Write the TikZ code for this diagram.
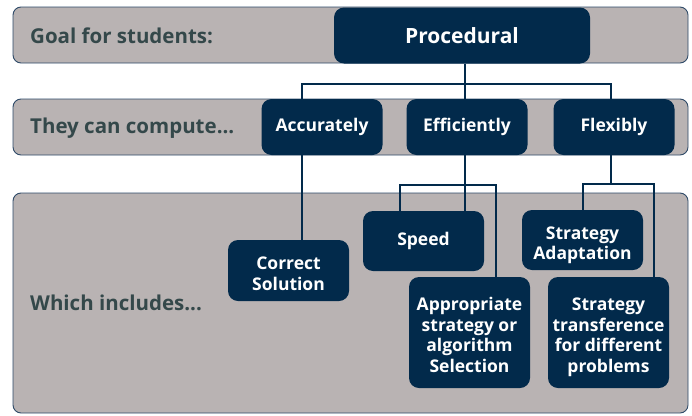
\documentclass[tikz,border=0pt]{standalone}
\usepackage{fontspec}
\setmainfont{Open Sans}
\definecolor{navy}{HTML}{022A4B}
\definecolor{bandgrey}{HTML}{B9B3B3}
\definecolor{bandline}{HTML}{2E4A68}
\definecolor{labelgrey}{HTML}{34484A}
\begin{document}
\begin{tikzpicture}
	[x=1pt,y=-1pt,
	band/.style={draw=bandline,line width=0.9pt,fill=bandgrey,rounded corners=8pt,minimum width=675pt,inner sep=0pt},
	tag/.style={anchor=west,text=labelgrey,font=\bfseries\fontsize{20.5}{24}\selectfont,inner sep=0pt},
	box/.style={fill=navy,text=white,rounded corners=10pt,align=center,minimum width=121pt,inner sep=0pt,
		font=\bfseries\fontsize{17.5}{20.5}\selectfont},
	tallbox/.style={box,text depth=0pt,text height=#1},
	link/.style={draw=navy,line width=2.2pt}]
    \useasboundingbox (0,0) rectangle (692,415);
    \node[band,minimum height=56pt] (goalband) at (350.5,35) {};
    \node[band,minimum height=56pt] (computeband) at (350.5,127) {};
    \node[band,minimum height=220pt] (includeband) at (350.5,303) {};
    \node[tag] (goal) at (30,35.5) {Goal for students:};
    \node[tag] (compute) at (30,128.5) {They can compute...};
    \node[tag] (include) at (30,302.5) {Which includes...};
    \node[box,minimum width=256pt,minimum height=56pt,font=\bfseries\fontsize{21}{24}\selectfont] (proc) at (462,35.5) {Procedural};
    \node[box,minimum height=56pt] (acc) at (322,127) {Accurately};
    \node[box,minimum height=56pt] (eff) at (467,127) {Efficiently};
    \node[box,minimum height=56pt] (flex) at (614,127) {Flexibly};
    \node[tallbox=39pt,minimum height=61pt] (corr) at (288.5,270.5) {Correct\\Solution};
    \node[box,minimum height=60pt] (speed) at (423.5,241) {Speed};
    \node[tallbox=39pt,minimum height=60pt] (adapt) at (582.5,240) {Strategy\\Adaptation};
    \node[tallbox=79pt,minimum height=111pt] (appr) at (469.5,332.5) {Appropriate\\strategy or\\algorithm\\Selection};
    \node[tallbox=79pt,minimum height=111pt] (transf) at (608.5,332.5) {Strategy\\transference\\for different\\problems};
    \draw [link] ([xshift=3]proc.south) -- ++(0,20) -| ([xshift=-20]acc.north);
    \draw [link] ([xshift=3]proc.south) ++(0,20) -| ([xshift=-3]flex.north);
    \draw [link] ([xshift=3]proc.south) -- ([xshift=-2]eff.north);
    \draw [link] ([xshift=-20]acc.south) -- ([xshift=-20]acc.south |- corr.north);
    \draw [link] ([xshift=-2]eff.south) -- ([xshift=-2]eff.south |- speed.north);
    \draw [link] ([xshift=-23.5]speed.north) -- ++(0,-26) -| ([xshift=26.5]appr.north);
    \draw [link] ([xshift=-3]flex.south) -- ++(0,29);
    \draw [link] ([xshift=0.5]adapt.north) -- ++(0,-26) -| ([xshift=45.5]transf.north);
\end{tikzpicture}
\end{document}
